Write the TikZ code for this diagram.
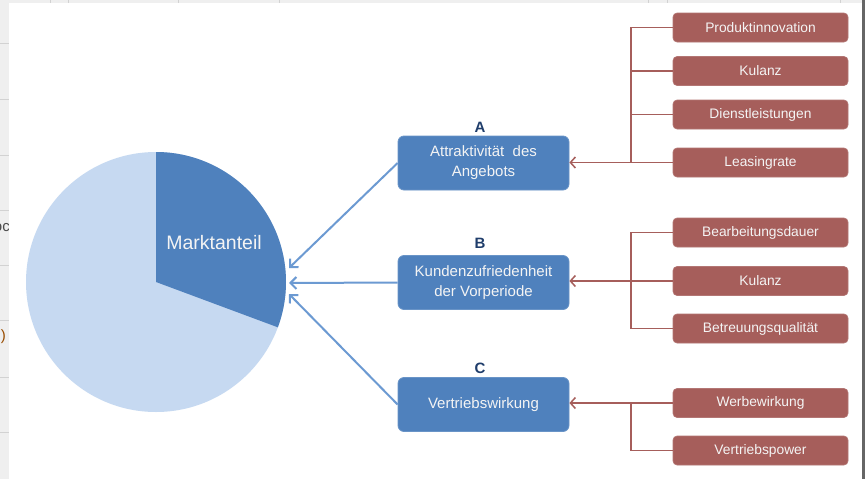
\documentclass[tikz,border=0pt]{standalone}
\usepackage{fontspec}
\setmainfont{Liberation Sans}
\usetikzlibrary{arrows.meta}
\definecolor{pieDark}{HTML}{4F81BD}
\definecolor{pieLight}{HTML}{C6D9F1}
\definecolor{boxBlue}{HTML}{4F81BD}
\definecolor{boxRed}{HTML}{A65E5B}
\definecolor{arrBlue}{HTML}{6C9AD2}
\definecolor{labNavy}{HTML}{1F3D6B}
\definecolor{txtWhite}{HTML}{F4F4F4}
\definecolor{gridGrey}{HTML}{D2D2D2}
\definecolor{sheetGrey}{HTML}{EFEFEF}
\tikzset{
  bluebox/.style={draw=boxBlue!85!white, line width=0.8pt, fill=boxBlue, rounded corners=6pt,
    minimum width=171pt, minimum height=54pt, align=center, text=txtWhite,
    font=\fontsize{15}{20}\selectfont, inner sep=0pt},
  redbox/.style={draw=boxRed!85!white, line width=0.6pt, fill=boxRed, rounded corners=4pt,
    minimum width=175pt, minimum height=29pt, text=txtWhite,
    font=\fontsize{13.8}{16}\selectfont, inner sep=0pt},
  letter/.style={text=labNavy, font=\fontsize{15}{15}\selectfont\bfseries, inner sep=0pt},
  bluearrow/.style={draw=arrBlue, line width=2pt, -{Straight Barb[length=6pt,width=12pt,line width=2pt]}},
  redline/.style={draw=boxRed, line width=1.5pt},
  redarrow/.style={draw=boxRed, line width=1.5pt, -{Straight Barb[length=5pt,width=11pt,line width=1.5pt]}}
}
\begin{document}
\begin{tikzpicture}[x=1pt,y=-1pt]
\useasboundingbox (0,0) rectangle (865,479);
% spreadsheet background
\fill[sheetGrey] (0,0) rectangle (865,479);
\foreach \yy in {43,99,155,210,265,320,377,432}
  \draw[gridGrey, line width=0.8pt] (0,\yy) -- (9,\yy);
\foreach \xx in {50,68,178,279,648,667,840}
  \draw[gridGrey, line width=0.8pt] (\xx,0) -- (\xx,3);
\begin{scope}
  \clip (0,0) rectangle (9,479);
  \node[anchor=east, text=black!70, font=\fontsize{15}{15}\selectfont, inner sep=0pt] (frag1) at (10,228) {oc};
  \node[anchor=east, text=orange!60!black, font=\fontsize{15}{15}\selectfont, inner sep=0pt] (frag2) at (6,337) {)};
\end{scope}
\fill[white] (9,3) rectangle (862,479);
\fill[black!60] (862,0) rectangle (865,479);

% pie
\fill[pieLight] (156,282) circle[radius=130];
\fill[pieDark] (156,282) -- ++(-90:130) arc[start angle=-90, end angle=20.4, radius=130] -- cycle;
\node[text=txtWhite, font=\fontsize{19.5}{20}\selectfont, inner sep=0pt] (mark) at (214,243) {Marktanteil};
\coordinate (tA) at (289,268);
\coordinate (tB) at (289,283);
\coordinate (tC) at (289,294);

% blue boxes
\node[bluebox] (A) at (483.5,163) {Attraktivität\ \ des\\Angebots};
\node[bluebox] (B) at (483.5,282.5) {Kundenzufriedenheit\\der Vorperiode};
\node[bluebox] (C) at (483.5,404.5) {Vertriebswirkung};
\node[letter] (lA) at (480,127) {A};
\node[letter] (lB) at (480,243) {B};
\node[letter] (lC) at (480,368) {C};

\draw[bluearrow] (A.west) -- (tA);
\draw[bluearrow] (B.west) -- (tB);
\draw[bluearrow] (C.west) -- (tC);

% red boxes
\node[redbox] (a1) at (760.5,27.5) {Produktinnovation};
\node[redbox] (a2) at (760.5,71) {Kulanz};
\node[redbox] (a3) at (760.5,114.5) {Dienstleistungen};
\node[redbox] (a4) at (760.5,162.5) {Leasingrate};
\node[redbox] (b1) at (760.5,232.5) {Bearbeitungsdauer};
\node[redbox] (b2) at (760.5,281) {Kulanz};
\node[redbox] (b3) at (760.5,328.5) {Betreuungsqualität};
\node[redbox] (c1) at (760.5,403) {Werbewirkung};
\node[redbox] (c2) at (760.5,450.5) {Vertriebspower};

% red connectors
\coordinate (busA) at (631,0);
\draw[redline] (a1.west) -- (a1.west -| busA) |- (a4.west);
\draw[redline] (a2.west) -- (a2.west -| busA);
\draw[redline] (a3.west) -- (a3.west -| busA);
\draw[redarrow] (a4.west) -- (a4.west -| A.east);

\draw[redline] (b1.west) -- (b1.west -| busA) |- (b3.west);
\draw[redarrow] (b2.west) -- (b2.west -| B.east);

\draw[redline] (c1.west) -- (c1.west -| busA) |- (c2.west);
\draw[redarrow] (c1.west) -- (c1.west -| C.east);
\end{tikzpicture}
\end{document}
